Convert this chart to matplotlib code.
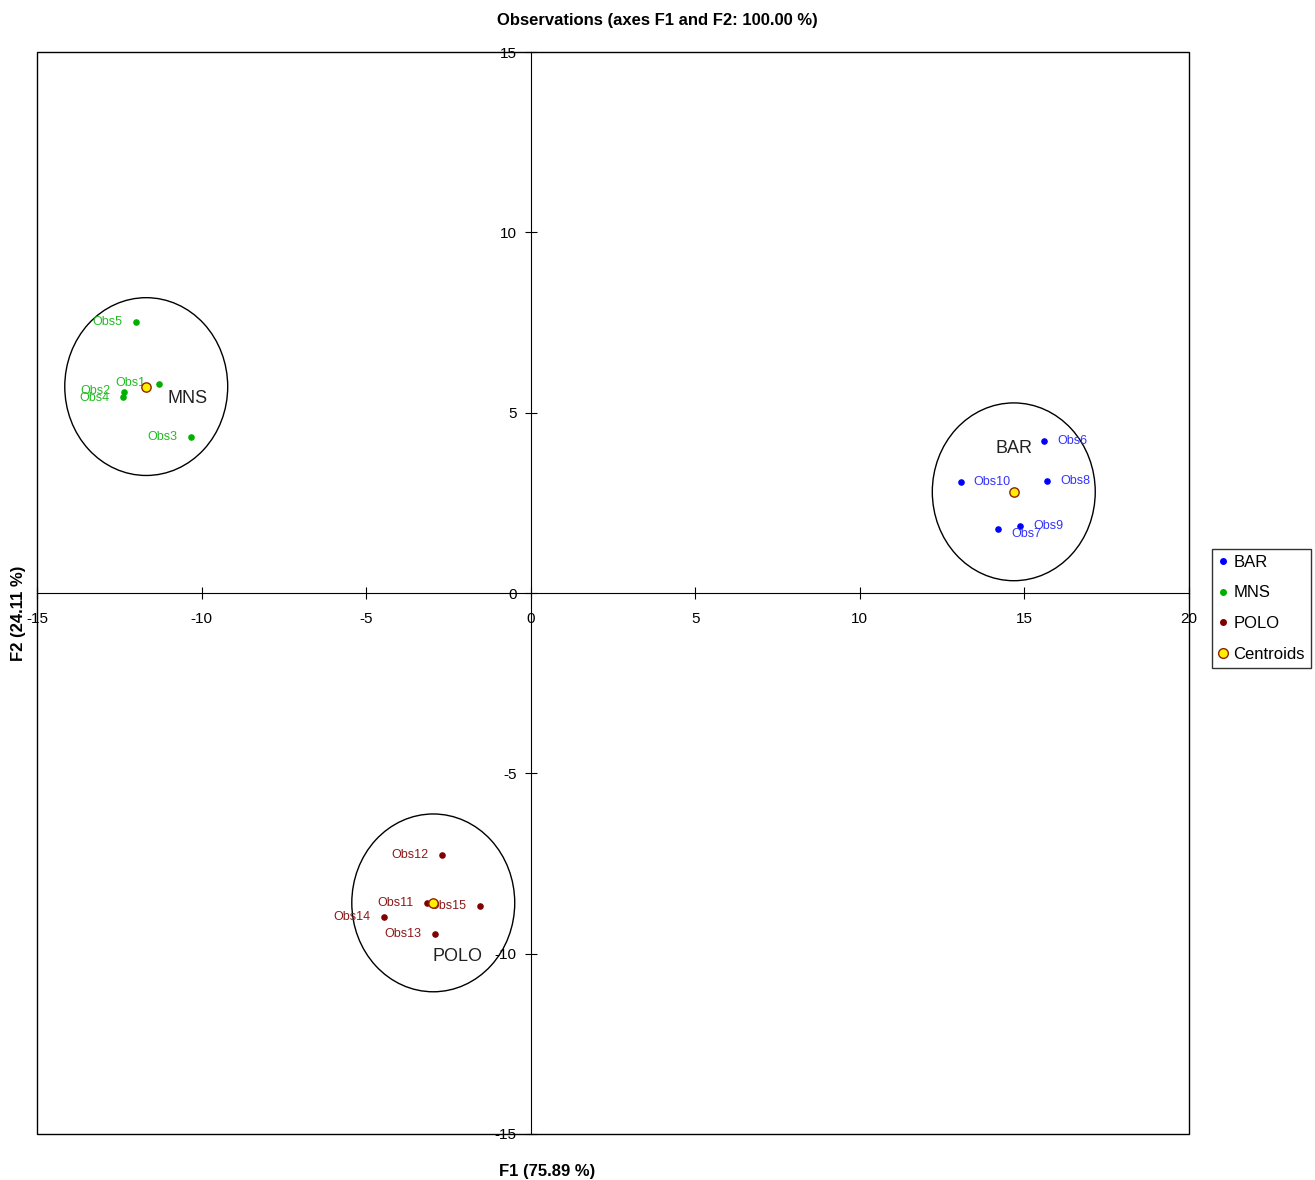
import matplotlib.pyplot as plt
from matplotlib.patches import Ellipse, Rectangle
from matplotlib.lines import Line2D
import numpy as np

plt.rcParams['font.family'] = ['Liberation Sans', 'DejaVu Sans']
plt.rcParams['axes.unicode_minus'] = False

groups = ['BAR', 'MNS', 'POLO']
colors = {'BAR': '#0000ff', 'MNS': '#00b000', 'POLO': '#800000'}
text_colors = {'BAR': '#3333ff', 'MNS': '#22bb22', 'POLO': '#8b1a1a'}

obs_names = {
    'BAR': ['Obs6', 'Obs7', 'Obs8', 'Obs9', 'Obs10'],
    'MNS': ['Obs1', 'Obs2', 'Obs3', 'Obs4', 'Obs5'],
    'POLO': ['Obs11', 'Obs12', 'Obs13', 'Obs14', 'Obs15'],
}
f1_vals = {
    'BAR': [15.59, 14.19, 15.68, 14.86, 13.06],
    'MNS': [-11.30, -12.37, -10.33, -12.40, -12.00],
    'POLO': [-3.16, -2.70, -2.92, -4.47, -1.55],
}
f2_vals = {
    'BAR': [4.21, 1.77, 3.11, 1.86, 3.08],
    'MNS': [5.79, 5.57, 4.32, 5.43, 7.51],
    'POLO': [-8.59, -7.26, -9.45, -8.98, -8.68],
}
ellipse_w = 4.95
ellipse_h = 4.93
# where the group name sits, relative to its centroid
group_label_offset = {'BAR': (0.0, 1.2), 'MNS': (1.25, -0.33), 'POLO': (0.75, -1.5)}
# label side: right of point for BAR, left for the others
label_side = {'BAR': 'right', 'MNS': 'left', 'POLO': 'left'}
label_dy = {'Obs7': -0.12, 'Obs4': -0.03, 'Obs2': 0.02, 'Obs1': 0.02}

fig = plt.figure(figsize=(13.15, 11.8), dpi=100)
ax = fig.add_axes([0.0281, 0.0390, 0.8761, 0.9169])

for g in groups:
    x = np.array(f1_vals[g])
    y = np.array(f2_vals[g])
    ax.scatter(x, y, s=14, color=colors[g], zorder=3, label=g)
    for name, xi, yi in zip(obs_names[g], x, y):
        dy = label_dy.get(name, 0.0)
        if label_side[g] == 'right':
            ax.text(xi + 0.4, yi + dy, name, color=text_colors[g], fontsize=9,
                    ha='left', va='center', zorder=4)
        else:
            ax.text(xi - 0.4, yi + dy, name, color=text_colors[g], fontsize=9,
                    ha='right', va='center', zorder=4)
    cx, cy = x.mean(), y.mean()
    ax.add_patch(Ellipse((cx, cy), ellipse_w, ellipse_h, fill=False,
                         edgecolor='black', lw=1.0, zorder=2))
    ox, oy = group_label_offset[g]
    ax.text(cx + ox, cy + oy, g, fontsize=13, ha='center', va='center',
            color='#222222', zorder=4)

cent_x = [np.mean(f1_vals[g]) for g in groups]
cent_y = [np.mean(f2_vals[g]) for g in groups]
ax.scatter(cent_x, cent_y, s=45, color='#ffee00', edgecolor='#8b2500',
           linewidth=1.0, zorder=5, label='Centroids')

ax.set_xlim(-15, 20)
ax.set_ylim(-15, 15)
ax.spines['left'].set_position(('data', 0))
ax.spines['bottom'].set_position(('data', 0))
ax.spines['top'].set_visible(False)
ax.spines['right'].set_visible(False)
ax.add_patch(Rectangle((0, 0), 1, 1, transform=ax.transAxes, fill=False,
                       edgecolor='black', lw=1.0, clip_on=False, zorder=1))
ax.set_xticks(np.arange(-15, 21, 5))
ax.set_yticks(np.arange(-15, 16, 5))
ax.tick_params(axis='x', direction='inout', length=8, labelsize=11, pad=10)
ax.tick_params(axis='y', direction='inout', length=8, labelsize=11, pad=6)

fig.text(0.5, 0.983, 'Observations (axes F1 and F2: 100.00 %)', ha='center',
         va='center', fontsize=12, fontweight='bold')
fig.text(0.416, 0.001, 'F1 (75.89 %)', ha='center', va='bottom',
         fontsize=12, fontweight='bold')
fig.text(0.014, 0.48, 'F2 (24.11 %)', ha='center', va='center',
         rotation=90, fontsize=12, fontweight='bold')

handles = [Line2D([], [], marker='o', ls='', color=colors[g], markersize=4, label=g)
           for g in groups]
handles.append(Line2D([], [], marker='o', ls='', markerfacecolor='#ffee00',
                      markeredgecolor='#8b2500', markersize=7, label='Centroids'))
fig.legend(handles=handles, loc='upper left', bbox_to_anchor=(0.922, 0.535),
           fontsize=12, frameon=True, fancybox=False, edgecolor='black',
           handlelength=0.6, handletextpad=0.3, borderpad=0.35, labelspacing=0.95,
           borderaxespad=0)

fig.savefig('out.png', dpi=100)
